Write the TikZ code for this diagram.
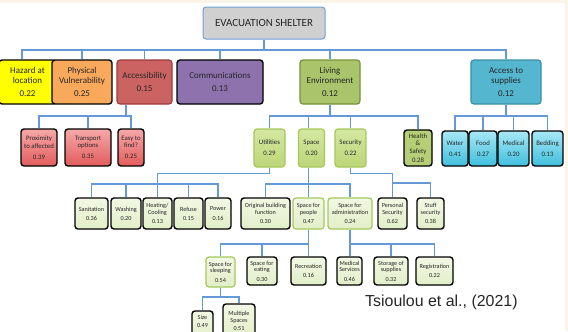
\documentclass[tikz,border=0pt]{standalone}
\usepackage{fontspec}
\setmainfont{Carlito}
\newfontfamily\arialf{Liberation Sans}
\definecolor{bgbeige}{HTML}{FAF5E8}
\definecolor{txt}{HTML}{262626}
\definecolor{connc}{HTML}{6499D6}
\definecolor{rootf}{HTML}{D0D0D0}
\definecolor{rootb}{HTML}{6F9FD8}
\definecolor{hazf}{HTML}{FFFF00}
\definecolor{physf}{HTML}{F8A95C}
\definecolor{accf}{HTML}{CC6363}
\definecolor{accb}{HTML}{9C3C3A}
\definecolor{commf}{HTML}{8E72AE}
\definecolor{livf}{HTML}{A9C46A}
\definecolor{livb}{HTML}{76933C}
\definecolor{supf}{HTML}{55B6CF}
\definecolor{supb}{HTML}{3A8FA6}
\definecolor{redtop}{HTML}{F7A8A8}
\definecolor{redbot}{HTML}{E25C5C}
\definecolor{lgtop}{HTML}{D4E7A2}
\definecolor{lgbot}{HTML}{BCD677}
\definecolor{lgb}{HTML}{A5C85A}
\definecolor{hsf}{HTML}{B6CE76}
\definecolor{cytop}{HTML}{A8E8F6}
\definecolor{cybot}{HTML}{3EBFDD}
\definecolor{pgtop}{HTML}{F2F8E4}
\definecolor{pgbot}{HTML}{E2EEC8}
\tikzset{
  box/.style={rectangle, rounded corners=3bp, align=center, text=txt, inner sep=1bp},
  blk/.style={box, draw=black, line width=1.4bp},
  grnb/.style={box, draw=lgb, line width=1.2bp},
  sz/.style 2 args={minimum width=#1bp, minimum height=#2bp},
  L1/.style={font=\fontsize{9}{9.5}\selectfont},
  L2/.style={font=\fontsize{6.8}{7.5}\selectfont},
  L3/.style={font=\fontsize{6.2}{6.7}\selectfont},
  redg/.style={top color=redtop, bottom color=redbot},
  lgg/.style={top color=lgtop, bottom color=lgbot},
  cyg/.style={top color=cytop, bottom color=cybot},
  pgg/.style={top color=pgtop, bottom color=pgbot},
  conn/.style={draw=connc, line width=1.1bp},
}
\begin{document}
\begin{tikzpicture}[x=1bp,y=-1bp]
\fill[white] (0,0) rectangle (568,331);
\fill[bgbeige] (0,0) rectangle (568,3);
\fill[bgbeige] (565,0) rectangle (568,331);
\useasboundingbox (0,0) rectangle (568,331);

% root
\node[box, draw=rootb, fill=rootf, line width=1bp, sz={122}{32}, font=\fontsize{11}{12}\selectfont] (root) at (264,23) {EVACUATION SHELTER};

% level 1
\node[blk, L1, fill=hazf, sz={57}{44}] (haz) at (27.5,82) {Hazard at\\location\\[3.5bp]0.22};
\node[blk, L1, fill=physf, sz={60}{44}] (phys) at (82,82) {Physical\\Vulnerability\\[3.5bp]0.25};
\node[box, L1, draw=accb, line width=1.1bp, fill=accf, sz={55}{44}] (acc) at (144.5,82) {Accessibility\\[3.5bp]0.15};
\node[blk, L1, fill=commf, sz={86}{44}] (comm) at (220,82) {Communications\\[3.5bp]0.13};
\node[box, L1, draw=livb, line width=1.2bp, fill=livf, sz={60}{44}] (liv) at (330,82) {Living\\Environment\\[3.5bp]0.12};
\node[box, L1, draw=supb, line width=1.2bp, fill=supf, sz={70}{44}] (sup) at (506,82) {Access to\\supplies\\[3.5bp]0.12};

% level 2
\node[blk, L2, redg, sz={36}{37}] (prox) at (39,147.5) {Proximity\\to affected\\[3.5bp]0.39};
\node[blk, L2, redg, sz={46}{37}] (trans) at (88,147.5) {Transport\\options\\[3.5bp]0.35};
\node[blk, L2, redg, sz={26}{37}] (easy) at (131,147.5) {Easy to\\find?\\[3.5bp]0.25};

\node[grnb, L2, lgg, sz={31}{38}] (util) at (269.5,148) {Utilities\\[3.5bp]0.29};
\node[grnb, L2, lgg, sz={26}{38}] (space) at (311.5,148) {Space\\[3.5bp]0.20};
\node[grnb, L2, lgg, sz={31}{38}] (sec) at (350.5,148) {Security\\[3.5bp]0.22};
\node[blk, L2, fill=hsf, sz={28}{36}] (hs) at (418,148) {Health\\\&\\Safety\\[2bp]0.28};

\node[blk, L2, cyg, sz={26}{35}] (water) at (455,148.5) {Water\\[3.5bp]0.41};
\node[blk, L2, cyg, sz={28}{35}] (food) at (483,148.5) {Food\\[3.5bp]0.27};
\node[blk, L2, cyg, sz={31}{35}] (med) at (513.5,148.5) {Medical\\[3.5bp]0.20};
\node[blk, L2, cyg, sz={31}{35}] (bed) at (547.5,148.5) {Bedding\\[3.5bp]0.13};

% level 3
\node[blk, L3, pgg, sz={33}{31}] (san) at (91.5,213.5) {Sanitation\\[2.5bp]0.36};
\node[blk, L3, pgg, sz={30}{31}] (wash) at (126,213.5) {Washing\\[2.5bp]0.20};
\node[blk, L3, pgg, sz={29}{31}] (heat) at (157.5,213.5) {Heating/\\Cooling\\[2.5bp]0.13};
\node[blk, L3, pgg, sz={29}{31}] (ref) at (188.5,213.5) {Refuse\\[2.5bp]0.15};
\node[blk, L3, pgg, sz={26}{31}] (pow) at (218,213.5) {Power\\[2.5bp]0.16};
\node[blk, L3, pgg, sz={49}{31}] (orig) at (265.5,213.5) {Original building\\function\\[2.5bp]0.30};
\node[grnb, L3, pgg, sz={31}{31}] (sfp) at (308.5,213.5) {Space for\\people\\[2.5bp]0.47};
\node[grnb, L3, pgg, sz={44}{31}] (sfa) at (350,213.5) {Space for\\administration\\[2.5bp]0.24};
\node[blk, L3, pgg, sz={29}{31}] (pers) at (392.5,213.5) {Personal\\Security\\[2.5bp]0.62};
\node[blk, L3, pgg, sz={27}{31}] (stuff) at (430.5,213.5) {Stuff\\security\\[2.5bp]0.38};

% level 4
\node[grnb, L3, pgg, sz={29}{30}] (sleep) at (220.5,272) {Space for\\sleeping\\[2.5bp]0.54};
\node[blk, L3, pgg, sz={30}{28}] (eat) at (262,271) {Space for\\eating\\[2.5bp]0.30};
\node[blk, L3, pgg, sz={35}{28}] (rec) at (308.5,271) {Recreation\\[2.5bp]0.16};
\node[blk, L3, pgg, sz={25}{28}] (meds) at (349.5,271) {Medical\\Services\\[2.5bp]0.46};
\node[blk, L3, pgg, sz={34}{28}] (stor) at (391,271) {Storage of\\supplies\\[2.5bp]0.32};
\node[blk, L3, pgg, sz={37}{28}] (reg) at (434.5,271) {Registration\\[2.5bp]0.22};

% level 5
\node[blk, L3, pgg, sz={21}{30}] (size) at (202.5,326) {Size\\[1bp]0.49\\[3bp]\mbox{}};
\node[blk, L3, pgg, sz={32}{34}] (multi) at (239,321) {Multiple\\Spaces\\[2bp]0.51};

% citation
\node[font=\arialf\fontsize{16}{18}\selectfont, text=txt, anchor=base west, inner sep=0pt] (cite) at (365,306) {Tsioulou et al., (2021)};

% connectors
\coordinate (b1) at (0,50);
\coordinate (b2) at (0,116);
\coordinate (b3) at (0,184);
\coordinate (b3s) at (0,183);
\coordinate (b4) at (0,244);
\coordinate (b5) at (0,297);

\draw[conn] (root.south) -- (root.south |- b1);
\draw[conn] ([xshift=-5.5bp]haz.north) -- ([xshift=-5.5bp]haz.north |- b1) -- (sup.north |- b1) -- (sup.north);
\foreach \n in {phys,acc,comm,liv} \draw[conn] (\n.north) -- (\n.north |- b1);

\draw[conn] ([xshift=-18.5bp]acc.south) -- ([xshift=-18.5bp]acc.south |- b2);
\draw[conn] (prox.north) -- (prox.north |- b2) -- (easy.north |- b2) -- (easy.north);
\draw[conn] (trans.north) -- (trans.north |- b2);

\draw[conn] (liv.south) -- (liv.south |- b2);
\draw[conn] (util.north) -- (util.north |- b2) -- (hs.north |- b2) -- (hs.north);
\draw[conn] (space.north -| sfp.north) -- (sfp.north |- b2);
\draw[conn] (sec.north) -- (sec.north |- b2);

\draw[conn] (sup.south) -- (sup.south |- b2);
\draw[conn] (water.north) -- (water.north |- b2) -- (bed.north |- b2) -- (bed.north);
\draw[conn] (food.north) -- (food.north |- b2);
\draw[conn] (med.north) -- (med.north |- b2);

\draw[conn] (util.south) -- ++(0,6) coordinate (u1) -- (u1 -| heat.north) -- (heat.north);
\draw[conn] (san.north) -- (san.north |- b3) -- (pow.north |- b3) -- (pow.north);
\draw[conn] (wash.north) -- (wash.north |- b3);
\draw[conn] (ref.north) -- (ref.north |- b3);

\draw[conn] (space.south -| sfp.north) -- (sfp.north);
\draw[conn] (orig.north) -- (orig.north |- b3) -- (sfa.north |- b3) -- (sfa.north);

\draw[conn] (sec.south) -- ++(0,6) coordinate (s1) -- (s1 -| pers.north) -- (pers.north);
\draw[conn] (pers.north |- b3s) -- (stuff.north |- b3s) -- (stuff.north);

\draw[conn] (sfp.south) -- (rec.north);
\draw[conn] (sleep.north) -- (sleep.north |- b4) -- (sfp.south |- b4);
\draw[conn] (eat.north) -- (eat.north |- b4);
\draw[conn] (sfa.south) -- (sfa.south |- meds.north);
\draw[conn] (sfa.south |- b4) -- (reg.north |- b4) -- (reg.north);
\draw[conn] (stor.north) -- (stor.north |- b4);

\draw[conn] (sleep.south) -- (sleep.south |- b5);
\draw[conn] (size.north) -- (size.north |- b5) -- (multi.north |- b5) -- (multi.north);
\end{tikzpicture}
\end{document}
